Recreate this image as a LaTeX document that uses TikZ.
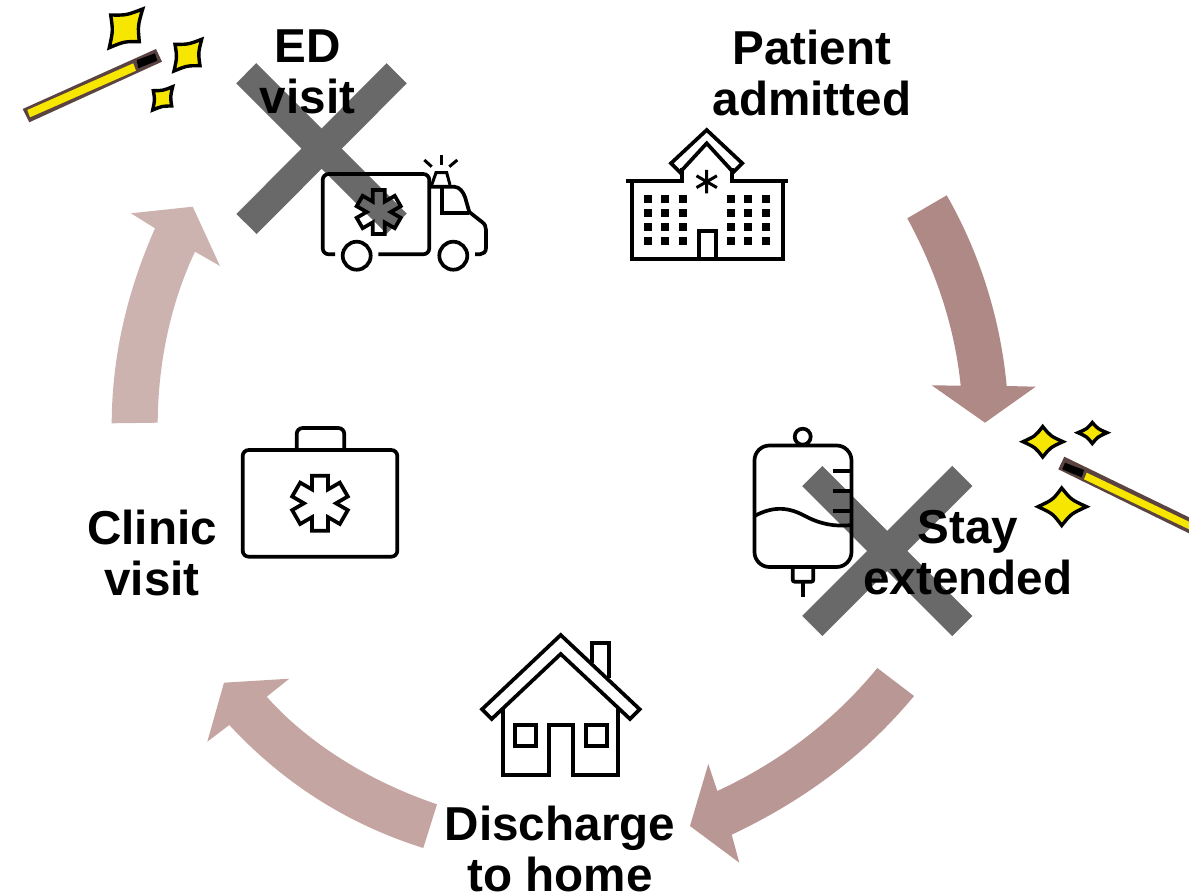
\documentclass[tikz,border=0pt]{standalone}
\usepackage{fontspec}
\setmainfont{Liberation Sans}
\usetikzlibrary{calc}
\definecolor{arrowA}{HTML}{AF8985}
\definecolor{arrowB}{HTML}{B99794}
\definecolor{arrowC}{HTML}{C4A5A1}
\definecolor{arrowD}{HTML}{CDB3AF}
\definecolor{crossgray}{HTML}{696969}
\definecolor{wandbrown}{HTML}{5A4340}
\definecolor{sparkyellow}{HTML}{F7E600}
\tikzset{
  label text/.style={font=\fontsize{47.6}{51}\selectfont\bfseries, align=center, inner sep=0pt, text=black},
  icon/.style={draw=black, line width=3.7pt, line join=miter, fill=none},
  cross bar/.style={draw=crossgray, line width=28.5pt},
  spark/.style={draw=black, line width=3.4pt, fill=sparkyellow, line join=miter, miter limit=6},
}
\newcommand{\sparkle}[5]{%
  \coordinate (sa) at (#1); \coordinate (sb) at (#2); \coordinate (sc) at (#3); \coordinate (sd) at (#4);
  \coordinate (so) at ($(sa)!.5!(sc)$);
  \draw[spark] (sa) .. controls ($(sa)!.5!(sb)!#5!(so)$) .. (sb)
    .. controls ($(sb)!.5!(sc)!#5!(so)$) .. (sc)
    .. controls ($(sc)!.5!(sd)!#5!(so)$) .. (sd)
    .. controls ($(sd)!.5!(sa)!#5!(so)$) .. cycle;}
% centre x, centre y, half width of an arm, length of an arm
\newcommand{\lifestar}[4]{%
  \pgfmathsetmacro{\hw}{#3}\pgfmathsetmacro{\ln}{#4}%
  \pgfmathsetmacro{\da}{atan(\hw/\ln)}\pgfmathsetmacro{\rr}{sqrt(\hw*\hw+\ln*\ln)}\pgfmathsetmacro{\ri}{2*\hw}%
  \begin{scope}[shift={(#1,#2)}]
  \draw[icon] (90-\da:\rr)
    \foreach \a in {90,150,210,270,330,390}{
      -- ({\a-\da}:\rr) -- ({\a+\da}:\rr) -- ({\a+30}:\ri)
    } -- cycle;
  \end{scope}}
\begin{document}
\begin{tikzpicture}[x=1pt,y=-1pt]
\useasboundingbox (0,0) rectangle (1189,893);
\fill[white] (0,0) rectangle (1189,893);

% sweeping arrows
\fill[arrowA] (907.3,218.3) -- (946.7,195.3) .. controls (978,250) and (1000,315) .. (1006.7,386)
  -- (1035.7,386.7) -- (985,422.7) -- (931.7,385.3) -- (960.7,385.7)
  .. controls (955,330) and (938,275) .. (907.3,218.3) -- cycle;
\fill[arrowB] (877.3,668) -- (914,696) .. controls (865,755) and (805,800) .. (731.7,834.7)
  -- (739.3,862.7) -- (690,826) -- (708.3,764) -- (717.3,791)
  .. controls (780,762) and (835,720) .. (877.3,668) -- cycle;
\fill[arrowC] (437,804.3) -- (423.3,848) .. controls (350,825) and (285,785) .. (229.3,725)
  -- (207.3,741.7) -- (224,682.7) -- (289.3,678.7) -- (266.7,696.7)
  .. controls (305,740) and (365,780) .. (437,804.3) -- cycle;
\fill[arrowD] (111.7,423.3) -- (157.7,422.7) .. controls (158,360) and (172,300) .. (195,251.7)
  -- (220,266) -- (192.7,206.7) -- (131,213.3) -- (155,228.3)
  .. controls (130,285) and (112,350) .. (111.7,423.3) -- cycle;

% crosses
\draw[cross bar] (246.2,73.3) -- (396.7,223.7);
\draw[cross bar] (396.7,73.3) -- (246.5,224);
\draw[cross bar] (812.3,476) -- (962.3,626);
\draw[cross bar] (962.3,476) -- (812.3,626);

% wand, upper left
\fill[wandbrown] (22.7,109) -- (29.3,122.3) -- (162,61.7) -- (156,49) -- cycle;
\fill[sparkyellow] (27.3,110) -- (133.3,63.3) -- (136,70.7) -- (30,117.3) -- cycle;
\fill[black] (136.7,60) -- (155,53.3) -- (157.3,60.7) -- (138.3,68.3) -- cycle;
\sparkle{110.7,15}{142.7,9}{139.3,41.7}{109.3,47.7}{.2}
\sparkle{175,44.3}{201.7,39.3}{200,65.7}{174,71}{.2}
\sparkle{153.3,90.7}{172.7,86.7}{171.7,106}{152.7,110}{.2}

% wand, right
\fill[wandbrown] (1064.3,456.7) -- (1058.3,469.3) -- (1189,533.3) -- (1189,517.3) -- cycle;
\fill[sparkyellow] (1086.7,472.7) -- (1084,479.3) -- (1189,529.3) -- (1189,521.7) -- cycle;
\fill[black] (1065,462.7) -- (1084,470) -- (1081.7,477.3) -- (1062.3,469.3) -- cycle;
\sparkle{1023,441.7}{1042.7,426.5}{1063,441.7}{1042.7,457}{.25}
\sparkle{1078,432.7}{1092.3,422.5}{1107,432.7}{1092.3,443.5}{.25}
\sparkle{1038,506.7}{1061.7,488}{1086.5,506.7}{1061.7,525.5}{.25}

% ambulance
\draw[icon,rounded corners=6pt] (335,254.3) -- (322.7,254.3) -- (322.7,174) -- (429.3,174) -- (429.3,254.3) -- (378.3,254.3);
\draw[icon] (356.7,255.7) circle[radius=14];
\draw[icon] (453.3,255.7) circle[radius=14];
\draw[icon] (429.3,186.7) -- (454,186.7) .. controls (460,187) and (463,192) .. (465,197) -- (469.3,212)
  -- (482,222) .. controls (485,224) and (486,227) .. (486,230) -- (486,248) .. controls (486,252) and (483,254.3) .. (480,254.3) -- (475,254.3);
\draw[icon] (441.7,186.7) -- (441.7,213.3) -- (469.3,213.3);
\draw[icon,line width=3pt] (431.7,185) -- (436,172.7) -- (446.7,172.7) -- (450,185);
\draw[icon,line width=3pt] (441,155) -- (441,165);
\draw[icon,line width=3pt] (424.3,160) -- (431.7,166.7);
\draw[icon,line width=3pt] (457.3,160) -- (449.3,166.7);
\lifestar{378.7}{212}{6}{22}

% hospital
\draw[icon] (626,181) -- (682,181) -- (682,168);
\draw[icon] (787.7,181) -- (731.7,181) -- (731.7,168);
\draw[icon] (631.7,181) -- (631.7,259.3) -- (782.7,259.3) -- (782.7,181);
\draw[icon] (706.7,130) -- (671,163.3) -- (680,172.3) -- (706.7,143.3) -- (733.3,172.3) -- (742.3,163.3) -- cycle;
\draw[icon] (698.7,259.3) -- (698.7,230.7) -- (715.7,230.7) -- (715.7,259.3);
\draw[black,line width=3pt] (706.7,170) -- (706.7,193.5) (696.5,175.8) -- (716.9,187.6) (716.9,175.8) -- (696.5,187.6);
\foreach \wx in {648,665,683,731,748,766}
  \foreach \wy in {199,212.7,226.7,240.7}
    \fill[black] (\wx-4,\wy-4) rectangle (\wx+4,\wy+4);

% iv bag
\draw[icon] (802.7,436.7) circle[radius=8];
\draw[icon,rounded corners=15pt] (754.5,445.5) rectangle (851.5,567);
\draw[icon] (832.7,470.7) -- (851.5,470.7) (832.7,490.7) -- (851.5,490.7) (832.7,510.7) -- (851.5,510.7);
\draw[icon] (754.5,516) .. controls (775,505) and (790,508) .. (805,516) .. controls (820,524) and (835,527) .. (851.5,525);
\draw[icon,rounded corners=2pt] (792.7,568) -- (792.7,581.7) -- (813.3,581.7) -- (813.3,568);
\draw[icon] (802.7,581.7) -- (802.7,597.3);

% house
\draw[icon] (560.7,635) -- (482,709.3) -- (491.7,719) -- (560.7,654) -- (630,719) -- (639.7,709.3) -- cycle;
\draw[icon] (503.3,708.3) -- (503.3,775) -- (549.3,775) -- (549.3,725) -- (572.7,725) -- (572.7,775) -- (618.3,775) -- (618.3,708.3);
\draw[icon] (515,725) rectangle (535.7,745.7);
\draw[icon] (586,725) rectangle (606.7,745.7);
\draw[icon] (591.7,663.3) -- (591.7,643.3) -- (609,643.3) -- (609,678.3);

% medical bag
\draw[icon,rounded corners=6pt] (242.7,450) rectangle (397.3,556.7);
\draw[icon,rounded corners=6pt] (296.7,449) -- (296.7,428) -- (344.3,428) -- (344.3,449);
\lifestar{320}{503.3}{8}{27.5}

% labels
\node[label text] (ed) at (307.5,72) {ED\\visit};
\node[label text] (admitted) at (812,73) {Patient\\admitted};
\node[label text] (stay) at (968,552.5) {Stay\\extended};
\node[label text] (home) at (560,849) {Discharge\\to home};
\node[label text] (clinic) at (152,553) {Clinic\\visit};
\end{tikzpicture}
\end{document}
